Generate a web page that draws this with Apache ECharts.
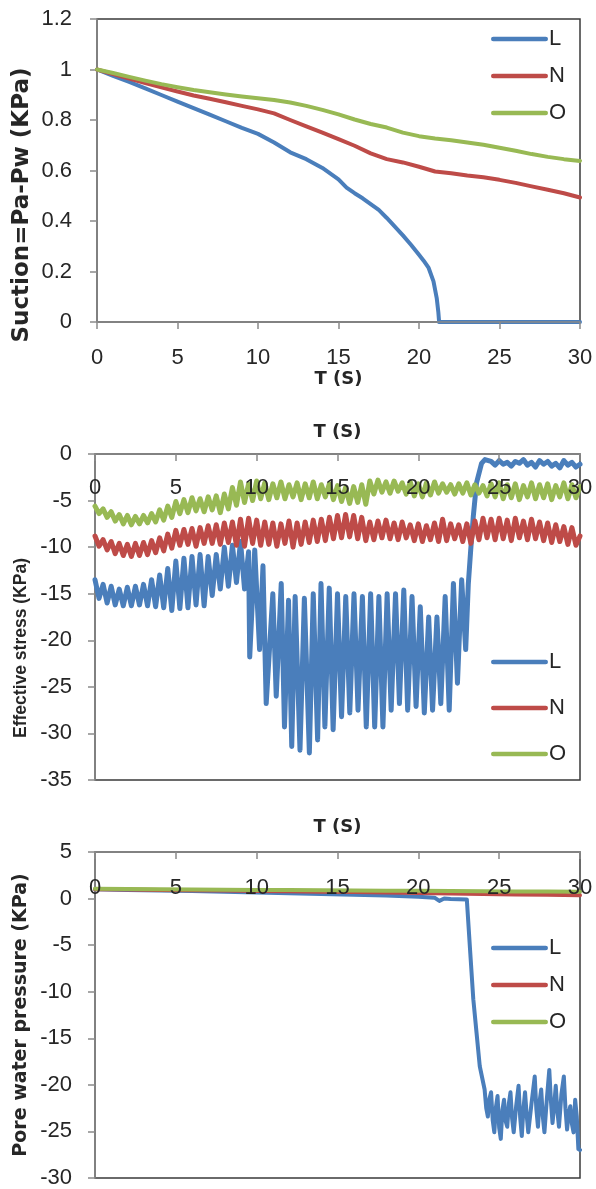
<!DOCTYPE html>
<html><head><meta charset="utf-8">
<script src="https://cdn.jsdelivr.net/npm/echarts@6/dist/echarts.min.js"></script>
<style>html,body{margin:0;padding:0;background:#fff}#c{width:596px;height:1189px}</style>
</head><body><div id="c"></div>
<script>
// ---------- ticks / labels ----------
const xTicks = [0, 5, 10, 15, 20, 25, 30];
const suctionTicks = [0, 0.2, 0.4, 0.6, 0.8, 1, 1.2];
const stressTicks = [-35, -30, -25, -20, -15, -10, -5, 0];
const poreTicks = [-30, -25, -20, -15, -10, -5, 0, 5];
const seriesNames = ['L', 'N', 'O'];
const xTitle = 'T (S)';
const yTitles = ['Suction=Pa-Pw (KPa)', 'Effective stress (KPa)', 'Pore water pressure (KPa)'];

// ---------- chart 1: suction ----------
const suctionT = [0,1,2,3,4,5,6,7,8,9,10,11,12,13,14,15,16,17,18,19,20,21,22,23,24,25,26,27,28,29,30];
const suctionN = [1.0,0.982,0.964,0.946,0.929,0.913,0.897,0.884,0.870,0.856,0.842,0.826,0.800,0.775,0.750,0.724,0.698,0.668,0.645,0.632,0.615,0.596,0.589,0.580,0.573,0.563,0.551,0.537,0.524,0.510,0.493];
const suctionO = [1.0,0.986,0.971,0.956,0.942,0.930,0.919,0.910,0.901,0.893,0.886,0.879,0.869,0.856,0.840,0.822,0.802,0.784,0.770,0.750,0.736,0.727,0.720,0.711,0.702,0.690,0.678,0.665,0.654,0.645,0.638];
const suctionLT = [0,1,2,3,4,5,6,7,8,9,10,11,12,13,14,15,15.5,16,16.5,17,17.5,18,18.5,19,19.5,20,20.3,20.6,20.9,21.1,21.2,21.25,22,24,26,28,30];
const suctionL = [1.0,0.975,0.951,0.925,0.899,0.873,0.847,0.821,0.795,0.769,0.745,0.711,0.672,0.645,0.61,0.565,0.532,0.51,0.49,0.467,0.444,0.412,0.378,0.343,0.306,0.266,0.242,0.214,0.161,0.095,0.04,0,0,0,0,0,0];

// ---------- chart 2: effective stress ----------
const stressT = [0,0.25,0.5,0.75,1,1.25,1.5,1.75,2,2.25,2.5,2.75,3,3.25,3.5,3.75,4,4.25,4.5,4.75,5,5.25,5.5,5.75,6,6.25,6.5,6.75,7,7.25,7.5,7.75,8,8.25,8.5,8.75,9,9.25,9.5,9.75,10,10.25,10.5,10.75,11,11.25,11.5,11.75,12,12.25,12.5,12.75,13,13.25,13.5,13.75,14,14.25,14.5,14.75,15,15.25,15.5,15.75,16,16.25,16.5,16.75,17,17.25,17.5,17.75,18,18.25,18.5,18.75,19,19.25,19.5,19.75,20,20.25,20.5,20.75,21,21.25,21.5,21.75,22,22.25,22.5,22.75,23,23.25,23.5,23.75,24,24.25,24.5,24.75,25,25.25,25.5,25.75,26,26.25,26.5,26.75,27,27.25,27.5,27.75,28,28.25,28.5,28.75,29,29.25,29.5,29.75,30];
const stressN = [-8.8,-9.9,-9.2,-10.3,-9.4,-10.7,-9.6,-10.9,-9.7,-11.0,-9.6,-10.9,-9.5,-10.8,-9.3,-10.6,-9.0,-10.4,-8.6,-10.1,-8.2,-9.8,-8.1,-9.7,-8.0,-9.9,-7.9,-9.6,-7.7,-9.6,-7.6,-9.7,-7.4,-9.5,-7.3,-9.8,-7.0,-9.9,-6.9,-9.6,-7.1,-9.8,-7.3,-9.7,-7.4,-9.9,-7.5,-9.6,-7.2,-10.0,-7.4,-9.7,-7.3,-9.5,-7.1,-9.4,-7.0,-9.3,-6.8,-9.1,-6.6,-9.0,-6.5,-8.9,-6.6,-9.1,-6.8,-9.3,-7.3,-9.2,-7.2,-9.0,-7.1,-9.1,-7.4,-9.2,-7.3,-9.0,-7.6,-9.3,-7.5,-9.4,-7.7,-9.2,-7.4,-9.4,-7.0,-9.3,-7.5,-9.1,-7.6,-9.4,-7.5,-9.6,-7.2,-9.2,-6.9,-9.0,-7.0,-9.2,-6.9,-9.1,-7.1,-9.3,-6.9,-9.0,-7.2,-9.2,-7.0,-9.1,-7.3,-9.3,-7.4,-9.5,-7.6,-9.4,-7.8,-9.7,-7.9,-9.8,-8.8];
const stressO = [-5.6,-6.4,-5.9,-6.8,-6.2,-7.2,-6.5,-7.5,-6.6,-7.6,-6.7,-7.5,-6.6,-7.4,-6.4,-7.3,-6.0,-7.1,-5.6,-6.8,-5.1,-6.4,-4.9,-6.3,-4.7,-6.1,-4.8,-6.2,-4.6,-6.0,-4.5,-6.3,-4.3,-5.9,-3.6,-5.5,-3.0,-5.2,-3.2,-5.0,-2.9,-4.8,-3.1,-4.9,-3.2,-4.7,-3.0,-4.8,-3.3,-4.6,-3.1,-4.9,-3.2,-4.7,-3.0,-4.8,-3.3,-4.6,-3.2,-4.9,-3.4,-5.1,-3.6,-5.3,-3.5,-5.2,-3.3,-5.4,-2.9,-4.3,-2.8,-4.1,-3.0,-4.2,-2.9,-4.0,-3.1,-4.3,-3.0,-4.5,-3.2,-4.6,-3.1,-4.4,-3.0,-4.2,-3.2,-4.1,-3.3,-4.3,-3.2,-4.2,-3.1,-4.4,-3.3,-4.2,-3.4,-4.5,-3.2,-4.6,-3.1,-4.8,-3.3,-4.7,-3.2,-4.9,-3.4,-4.6,-3.1,-4.8,-3.3,-4.7,-3.2,-4.9,-3.4,-4.6,-3.1,-4.8,-3.3,-4.7,-3.5];
const stressLT = [0,0.25,0.5,0.75,1,1.25,1.5,1.75,2,2.25,2.5,2.75,3,3.25,3.5,3.75,4,4.25,4.5,4.75,5,5.25,5.5,5.75,6,6.25,6.5,6.75,7,7.25,7.5,7.75,8,8.25,8.5,8.75,9,9.25,9.5,
  9.57,9.88,10.18,10.39,10.59,11.0,11.21,11.52,11.72,11.97,12.17,12.38,12.68,12.95,13.26,13.5,13.77,13.98,14.22,14.49,14.73,15.0,15.25,15.51,15.76,16.02,16.27,16.54,16.78,17.05,17.3,17.56,17.81,18.07,18.32,18.59,18.83,19.1,19.34,19.61,19.86,20.12,20.37,20.64,20.88,21.15,21.39,21.66,21.91,22.17,22.42,22.68,22.93,23.09,23.24,23.4,23.6,23.91,24.12,
  24.5,24.75,25,25.25,25.5,25.75,26,26.25,26.5,26.75,27,27.25,27.5,27.75,28,28.25,28.5,28.75,29,29.25,29.5,29.75,30];
const stressL = [-13.5,-15.5,-14,-16,-14.2,-16.2,-14.5,-16.3,-14.3,-16.3,-14.2,-16.2,-14,-16.3,-13.5,-16.4,-13,-16.5,-12.3,-16.8,-11.5,-16.6,-11.2,-16.5,-11,-16.2,-10.8,-16.3,-11,-15.2,-10.8,-14.5,-10,-14.2,-9.8,-13.8,-9.4,-14.5,-10.5,
  -21.8,-10.3,-21,-12,-26.8,-15,-26,-13.9,-29.3,-15.7,-31.4,-15.3,-31.8,-15.5,-32.1,-15,-30.7,-13.9,-29.3,-14.4,-29.6,-15,-28.2,-15.3,-27.8,-15,-27.5,-15.3,-29.3,-15,-29.3,-15.3,-29.3,-15,-27.5,-15,-26.8,-14.6,-27.5,-15.3,-27.1,-16.4,-27.8,-17.5,-27.5,-17.5,-26.8,-15.3,-27.5,-13.9,-24.6,-13.5,-21,-14,-10.3,-6.7,-3.1,-1.0,-0.6,
  -0.8,-1.2,-0.7,-1.1,-0.9,-1.3,-0.8,-1.0,-0.6,-1.2,-0.9,-1.4,-0.7,-1.1,-0.8,-1.3,-1.0,-1.5,-0.7,-1.2,-0.9,-1.4,-1.1];

// ---------- chart 3: pore water pressure ----------
const poreT = [0,2,4,6,8,10,12,14,16,18,20,22,24,26,28,30];
const poreN = [1.0,0.97,0.93,0.9,0.86,0.82,0.78,0.74,0.7,0.65,0.6,0.55,0.5,0.45,0.4,0.35];
const poreO = [1.05,1.03,1.0,0.98,0.96,0.93,0.91,0.89,0.87,0.85,0.83,0.81,0.79,0.77,0.75,0.73];
const poreLT = [0,2,4,6,8,10,12,14,16,18,20,21,21.3,21.6,22,22.5,23,23.2,23.4,23.6,23.8,24.1,24.2,24.3,24.4,24.5,24.6,24.7,24.8,24.9,25.0,25.1,25.2,25.3,25.4,25.5,25.6,25.7,25.8,25.9,26.05,26.2,26.3,26.4,26.5,26.6,26.7,26.8,27.0,27.2,27.3,27.4,27.5,27.6,27.7,27.8,27.95,28.1,28.2,28.3,28.4,28.5,28.6,28.7,28.85,29.0,29.1,29.2,29.3,29.4,29.5,29.6,29.7,29.8,29.9,30];
const poreL = [1.0,0.93,0.86,0.8,0.73,0.66,0.58,0.5,0.42,0.33,0.2,0.1,-0.25,0.0,-0.05,-0.08,-0.1,-5.5,-10.8,-14.4,-18,-20.5,-22.5,-23.4,-21.5,-20.8,-23.8,-25.1,-22.4,-21.2,-24.6,-25.8,-22.7,-21.6,-23.9,-24.5,-22.0,-20.8,-23.6,-25.1,-22.3,-20.1,-23.5,-25.5,-22.6,-20.8,-23.2,-25.1,-22.0,-19.1,-22.6,-24.5,-21.8,-20.5,-23.4,-25.1,-21.5,-18.4,-21.7,-24.1,-22.3,-20.1,-22.8,-24.5,-21.0,-19.1,-22.5,-24.8,-23.0,-22.3,-24.2,-25.1,-21.6,-23.4,-26.9,-27.0];

function pairs(t, v) { return t.map((x, i) => [x, v[i]]); }

const colors = ['#4A7EBB', '#BE4B48', '#98B954'];
const labelFont = { fontFamily: 'Liberation Sans', fontSize: 22, color: '#262626' };
const axisLineStyle = { color: '#8a8a8a', width: 1.5 };
const nameStyle = { fontFamily: 'DejaVu Sans', fontWeight: 'bold', fontSize: 18, color: '#262626' };

const grids = [
  { left: 97, top: 19, width: 483, height: 303 },
  { left: 95, top: 454, width: 485, height: 326 },
  { left: 95, top: 852, width: 485, height: 327 }
].map(g => Object.assign(g, { show: true, borderColor: '#3a3a3a', borderWidth: 1.5, backgroundColor: 'transparent' }));

const xAxes = [
  { gridIndex: 0, position: 'bottom', labelMargin: 25, inside: false, nameGap: 48 },
  { gridIndex: 1, position: 'top', labelMargin: 23, inside: true, nameGap: 13 },
  { gridIndex: 2, position: 'top', labelMargin: 25, inside: true, nameGap: 16 }
].map(a => ({
  type: 'value', gridIndex: a.gridIndex, position: a.position, z: 5,
  min: xTicks[0], max: xTicks[xTicks.length - 1], interval: xTicks[1] - xTicks[0],
  name: xTitle, nameLocation: 'middle', nameGap: a.nameGap, nameTextStyle: nameStyle,
  axisLine: { show: true, onZero: false, lineStyle: axisLineStyle },
  axisTick: { show: true, inside: a.inside, length: 7, lineStyle: axisLineStyle },
  axisLabel: Object.assign({ inside: a.inside, margin: a.labelMargin }, labelFont),
  splitLine: { show: false }
}));

const yTickSets = [suctionTicks, stressTicks, poreTicks];
const yAxes = yTickSets.map((ticks, i) => ({
  type: 'value', gridIndex: i,
  min: ticks[0], max: ticks[ticks.length - 1],
  interval: +(ticks[1] - ticks[0]).toFixed(4),
  axisLine: { show: true, onZero: false, lineStyle: axisLineStyle },
  axisTick: { show: true, length: 7, lineStyle: axisLineStyle },
  axisLabel: Object.assign({ margin: i === 0 ? 25 : 23, formatter: v => String(+v.toFixed(1)) }, labelFont),
  splitLine: { show: false }
}));

const lineWidths = [4, 5, 4];
const seriesData = [
  [pairs(suctionLT, suctionL), pairs(suctionT, suctionN), pairs(suctionT, suctionO)],
  [pairs(stressLT, stressL), pairs(stressT, stressN), pairs(stressT, stressO)],
  [pairs(poreLT, poreL), pairs(poreT, poreN), pairs(poreT, poreO)]
];
const series = [];
seriesData.forEach((set, gi) => {
  set.forEach((d, si) => {
    series.push({
      type: 'line', name: seriesNames[si], xAxisIndex: gi, yAxisIndex: gi,
      data: d, symbol: 'none', showSymbol: false, smooth: false,
      lineStyle: { color: colors[si], width: lineWidths[gi], join: 'round', cap: 'round' },
      itemStyle: { color: colors[si] },
      z: 2 + si
    });
  });
});

const barIcon = 'path://M2.25,0 L52.75,0 A2.25,2.25 0 0 1 52.75,4.5 L2.25,4.5 A2.25,2.25 0 0 1 2.25,0 Z';
const legendPos = [
  { top: 23, gap: 15 },
  { top: 646, gap: 24 },
  { top: 932, gap: 15 }
];
const legends = legendPos.map(p => ({
  orient: 'vertical', left: 486, top: p.top, itemGap: p.gap,
  itemWidth: 57, itemHeight: 22, data: seriesNames, selectedMode: false,
  icon: barIcon, symbolKeepAspect: true,
  textStyle: Object.assign({ padding: [0, 0, 0, -4] }, labelFont)
}));

const titleCenters = [[22, 205], [21, 648], [21, 1015]];
const titleFonts = [
  { fontFamily: 'DejaVu Sans', fontSize: 23 },
  { fontFamily: 'Liberation Sans', fontSize: 17.5 },
  { fontFamily: 'DejaVu Sans', fontSize: 19 }
];
const graphics = yTitles.map((t, i) => ({
  type: 'text', x: titleCenters[i][0], y: titleCenters[i][1], rotation: Math.PI / 2,
  style: Object.assign({ text: t, fontWeight: 'bold', fill: '#262626', align: 'center', verticalAlign: 'middle' }, titleFonts[i])
}));

const chart = echarts.init(document.getElementById('c'), null, { renderer: 'canvas' });
chart.setOption({
  animation: false,
  backgroundColor: '#ffffff',
  grid: grids,
  xAxis: xAxes,
  yAxis: yAxes,
  legend: legends,
  series: series,
  graphic: graphics
});
</script>
</body></html>
